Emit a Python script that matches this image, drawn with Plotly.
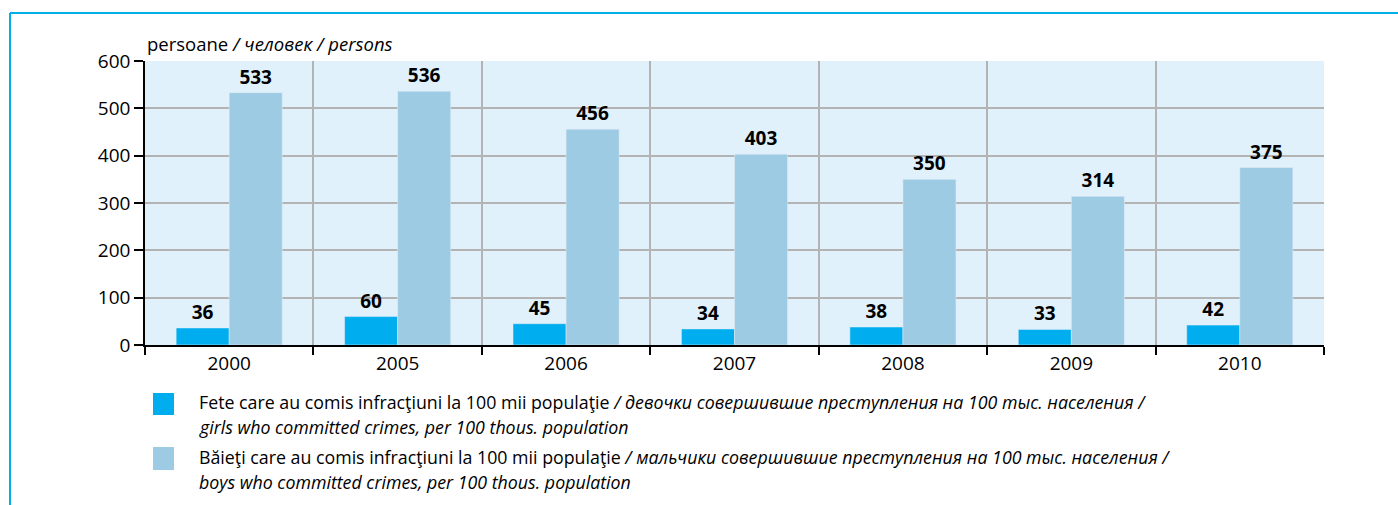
import plotly.graph_objects as go

years = ["2000", "2005", "2006", "2007", "2008", "2009", "2010"]
girls = [36, 60, 45, 34, 38, 33, 42]
boys = [533, 536, 456, 403, 350, 314, 375]
y_ticks = [0, 100, 200, 300, 400, 500, 600]

axis_title = "persoane <i>/ человек / persons</i>"
legend_lines_girls = [
    "Fete care au comis infracţiuni la 100 mii populaţie <i>/ девочки совершившие преступления на 100 тыс. населения /</i>",
    "<i>girls who committed crimes, per 100 thous. population</i>",
]
legend_lines_boys = [
    "Băieţi care au comis infracţiuni la 100 mii populaţie <i>/ мальчики совершившие преступления на 100 тыс. населения /</i>",
    "<i>boys who committed crimes, per 100 thous. population</i>",
]

C_GIRLS = "#00aeef"
C_BOYS = "#9dcbe3"
C_BG = "#e0f1fb"
C_BORDER = "#00aee8"
FONT = "Open Sans"

W, H = 1398, 505
L, R, T, B = 145, 74, 61, 160
PW, PH = W - L - R, H - T - B


def px_x(px):
    return (px - L) / PW


def px_y(py):
    return (H - B - py) / PH


fig = go.Figure()
fig.add_bar(x=years, y=girls, name="girls", marker_color=C_GIRLS,
            text=girls, texttemplate="<b>%{y}</b>", textposition="outside",
            textfont=dict(size=19, color="black", family=FONT), cliponaxis=False)
fig.add_bar(x=years, y=boys, name="boys", marker_color=C_BOYS,
            text=boys, texttemplate="<b>%{y}</b>", textposition="outside",
            textfont=dict(size=19, color="black", family=FONT), cliponaxis=False)

shapes = []
# blue frame (top and left)
shapes.append(dict(type="line", xref="paper", yref="paper", x0=px_x(10), x1=px_x(W + 5),
                   y0=px_y(13), y1=px_y(13), line=dict(color=C_BORDER, width=2)))
shapes.append(dict(type="line", xref="paper", yref="paper", x0=px_x(10), x1=px_x(10),
                   y0=px_y(13), y1=px_y(H + 5), line=dict(color=C_BORDER, width=2)))
# legend squares
shapes.append(dict(type="rect", xref="paper", yref="paper", x0=px_x(153), x1=px_x(174),
                   y0=px_y(393), y1=px_y(415), fillcolor=C_GIRLS, line=dict(width=0)))
shapes.append(dict(type="rect", xref="paper", yref="paper", x0=px_x(153), x1=px_x(174),
                   y0=px_y(447), y1=px_y(470), fillcolor=C_BOYS, line=dict(width=0)))

annotations = [dict(text=axis_title, xref="paper", yref="paper", x=px_x(145), y=px_y(43),
                    xanchor="left", yanchor="middle", showarrow=False,
                    font=dict(size=18.5, color="black", family=FONT))]
for line, py in zip(legend_lines_girls + legend_lines_boys, [402, 427, 457, 482]):
    annotations.append(dict(text=line, xref="paper", yref="paper", x=px_x(197), y=px_y(py),
                            xanchor="left", yanchor="middle", showarrow=False,
                            font=dict(size=17.8, color="black", family=FONT)))

fig.update_layout(
    width=W, height=H,
    margin=dict(l=L, r=R, t=T, b=B, pad=0),
    paper_bgcolor="white", plot_bgcolor=C_BG,
    barmode="group", bargap=0.37, bargroupgap=0,
    showlegend=False,
    font=dict(family=FONT, size=18, color="black"),
    shapes=shapes, annotations=annotations,
    xaxis=dict(type="category", tickson="boundaries", showgrid=True, gridcolor="#b3b3b3",
               gridwidth=1.5, showline=True, linecolor="black", linewidth=1.5,
               ticks="outside", ticklen=8, tickcolor="black", tickwidth=1.5,
               tickfont=dict(size=19, color="black", family=FONT)),
    yaxis=dict(range=[0, 600], tickvals=y_ticks, showgrid=True, gridcolor="#b3b3b3",
               gridwidth=1.5, showline=True, linecolor="black", linewidth=1.5,
               ticks="outside", ticklen=9, tickcolor="black", tickwidth=1.5,
               tickfont=dict(size=19, color="black", family=FONT), zeroline=False),
)

fig.write_html("out.html", config={"displayModeBar": False},
               post_script="document.body.style.margin='0';")
